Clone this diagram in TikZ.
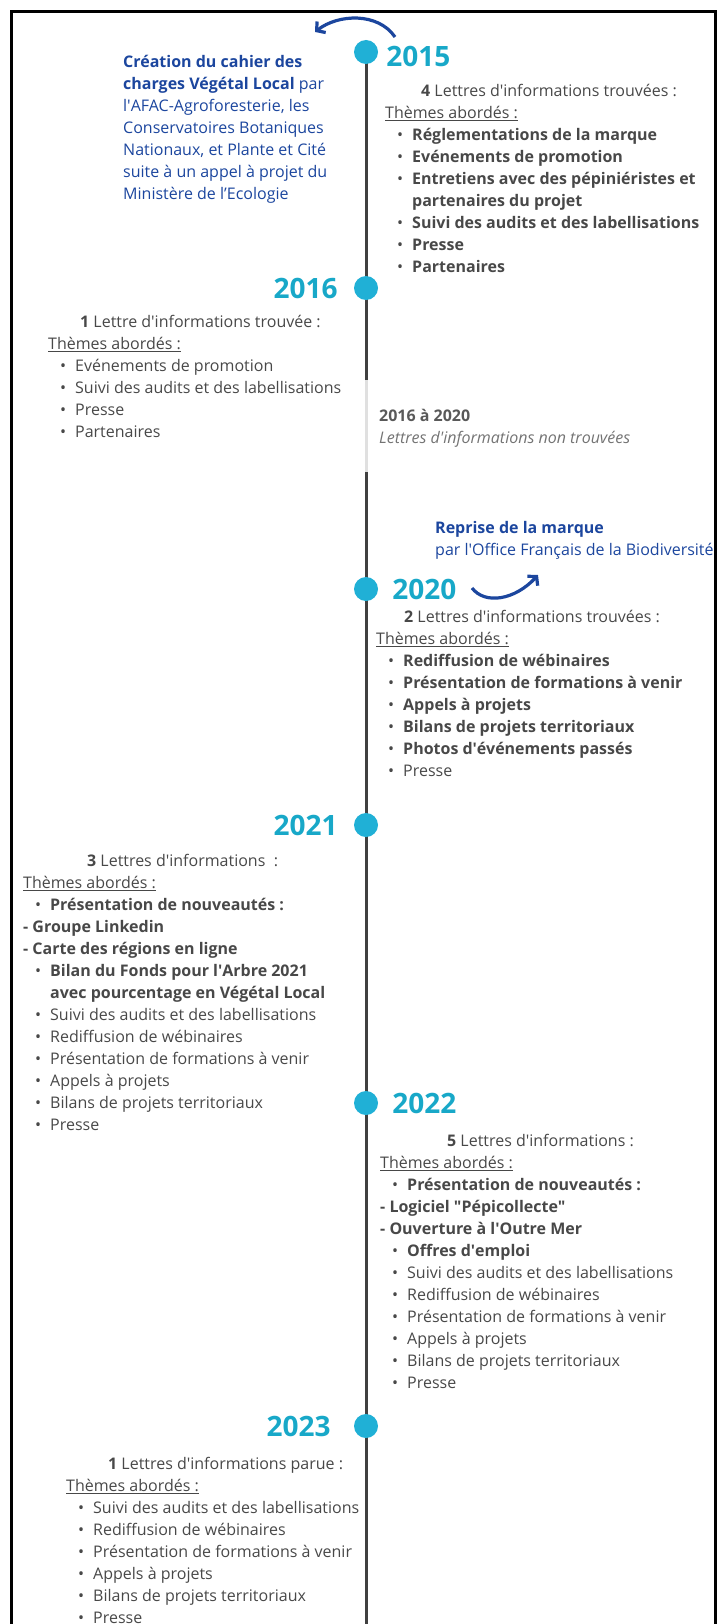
\documentclass[tikz,border=0pt]{standalone}
\usepackage{fontspec}
\setmainfont{Open Sans}
\usetikzlibrary{positioning, arrows.meta}
\definecolor{yearcyan}{RGB}{24,168,200}
\definecolor{dotcyan}{RGB}{32,176,214}
\definecolor{darkblue}{RGB}{28,70,158}
\definecolor{txtgray}{RGB}{72,72,72}
\newcommand{\ap}{\textquotesingle}
\newcommand{\bul}{\hspace*{12pt}\makebox[15pt][l]{\textbullet}}
\newcommand{\themes}{\underline{Thèmes abordés :}}

\begin{document}
\begin{tikzpicture}[x=1pt, y=-1pt,
    dot/.style={circle, fill=dotcyan, minimum size=24pt, inner sep=0pt},
    year/.style={font=\fontsize{28}{30}\selectfont\bfseries, text=yearcyan, inner sep=0pt},
    txt/.style={anchor=north west, align=left, inner sep=0pt, text=txtgray, font=\fontsize{16}{22}\selectfont},
    curvy/.style={-{Straight Barb[length=6pt, width=14pt]}, draw=darkblue, line width=3.2pt}]
    \useasboundingbox (0,0) rectangle (718,1624);
    % timeline
    \coordinate (ltop) at (366,52);
    \coordinate (gapA) at (366,380);
    \coordinate (gapB) at (366,472);
    \coordinate (lbot) at (366,1630);
    \draw[line width=3pt, black!75] (ltop) -- (gapA);
    \draw[line width=3pt, black!12] (gapA) -- (gapB);
    \draw[line width=3pt, black!75] (gapB) -- (lbot);
    \foreach \n/\y in {15/52, 16/288, 20/589, 21/825, 22/1103, 23/1426}
        \node[dot] (d\n) at (366,\y) {};
    % years
    \node[year, right=8pt of d15, yshift=-4pt] (y15) {2015};
    \node[year, left=16pt of d16] (y16) {2016};
    \node[year, right=14pt of d20] (y20) {2020};
    \node[year, left=16pt of d21] (y21) {2021};
    \node[year, right=14pt of d22] (y22) {2022};
    \node[year, left=23pt of d23] (y23) {2023};
    % 2015
    \node[txt, text=darkblue] (cdc) at (123,51.6) {\strut\textbf{Création du cahier des}\\
        \textbf{charges Végétal Local} par\\ l\ap AFAC-Agroforesterie, les\\ Conservatoires Botaniques\\
        Nationaux, et Plante et Cité\\ suite à un appel à projet du\\ Ministère de l’Ecologie};
    \node[txt] (nl15) at (385,80.6) {\strut\hspace*{36pt}\textbf{4} Lettres d\ap informations trouvées :\\ \themes\\
        \bul\textbf{Réglementations de la marque}\\ \bul\textbf{Evénements de promotion}\\
        \bul\textbf{Entretiens avec des pépiniéristes et}\\ \hspace*{27pt}\textbf{partenaires du projet}\\
        \bul\textbf{Suivi des audits et des labellisations}\\ \bul\textbf{Presse}\\ \bul\textbf{Partenaires}};
    % 2016
    \node[txt] (nl16) at (48,311.6) {\strut\hspace*{32pt}\textbf{1} Lettre d\ap informations trouvée :\\ \themes\\
        \bul Evénements de promotion\\ \bul Suivi des audits et des labellisations\\ \bul Presse\\ \bul Partenaires};
    \node[txt] (gap) at (379,405.6) {\strut\textcolor{black!65}{\textbf{2016 à 2020}}\\
        \textcolor{black!55}{\textit{Lettres d\ap informations non trouvées}}};
    % 2020
    \node[txt, text=darkblue] (ofb) at (435,517.6) {\strut\textbf{Reprise de la marque}\\
        par l\ap Office Français de la Biodiversité};
    \node[txt] (nl20) at (376,606.6) {\strut\hspace*{28pt}\textbf{2} Lettres d\ap informations trouvées :\\ \themes\\
        \bul\textbf{Rediffusion de wébinaires}\\ \bul\textbf{Présentation de formations à venir}\\
        \bul\textbf{Appels à projets}\\ \bul\textbf{Bilans de projets territoriaux}\\
        \bul\textbf{Photos d\ap événements passés}\\ \bul Presse};
    % 2021
    \node[txt] (nl21) at (23,850.6) {\strut\hspace*{64pt}\textbf{3} Lettres d\ap informations~ :\\ \themes\\
        \bul\textbf{Présentation de nouveautés :}\\ \textbf{- Groupe Linkedin}\\ \textbf{- Carte des régions en ligne}\\
        \bul\textbf{Bilan du Fonds pour l\ap Arbre 2021}\\ \hspace*{27pt}\textbf{avec pourcentage en Végétal Local}\\
        \bul Suivi des audits et des labellisations\\ \bul Rediffusion de wébinaires\\
        \bul Présentation de formations à venir\\ \bul Appels à projets\\ \bul Bilans de projets territoriaux\\ \bul Presse};
    % 2022
    \node[txt] (nl22) at (380,1130.6) {\strut\hspace*{67pt}\textbf{5} Lettres d\ap informations :\\ \themes\\
        \bul\textbf{Présentation de nouveautés :}\\ \textbf{- Logiciel \textquotedbl Pépicollecte\textquotedbl}\\
        \textbf{- Ouverture à l\ap Outre Mer}\\ \bul\textbf{Offres d\ap emploi}\\
        \bul Suivi des audits et des labellisations\\ \bul Rediffusion de wébinaires\\
        \bul Présentation de formations à venir\\ \bul Appels à projets\\ \bul Bilans de projets territoriaux\\ \bul Presse};
    % 2023
    \node[txt] (nl23) at (66,1453.6) {\strut\hspace*{42pt}\textbf{1} Lettres d\ap informations parue :\\ \themes\\
        \bul Suivi des audits et des labellisations\\ \bul Rediffusion de wébinaires\\
        \bul Présentation de formations à venir\\ \bul Appels à projets\\ \bul Bilans de projets territoriaux\\ \bul Presse};
    % curved arrows
    \coordinate (arrA) at (395,37);
    \coordinate (arrB) at (315,32);
    \draw[curvy] (arrA) .. controls (378,12) and (338,14) .. (arrB);
    \coordinate (arrC) at (472,588);
    \coordinate (arrD) at (538,575);
    \draw[curvy] (arrC) .. controls (485,605) and (515,600) .. (arrD);
    % frame
    \draw[line width=3pt] (11,1630) -- (11,12) -- (715,12) -- (715,1630);
\end{tikzpicture}
\end{document}
